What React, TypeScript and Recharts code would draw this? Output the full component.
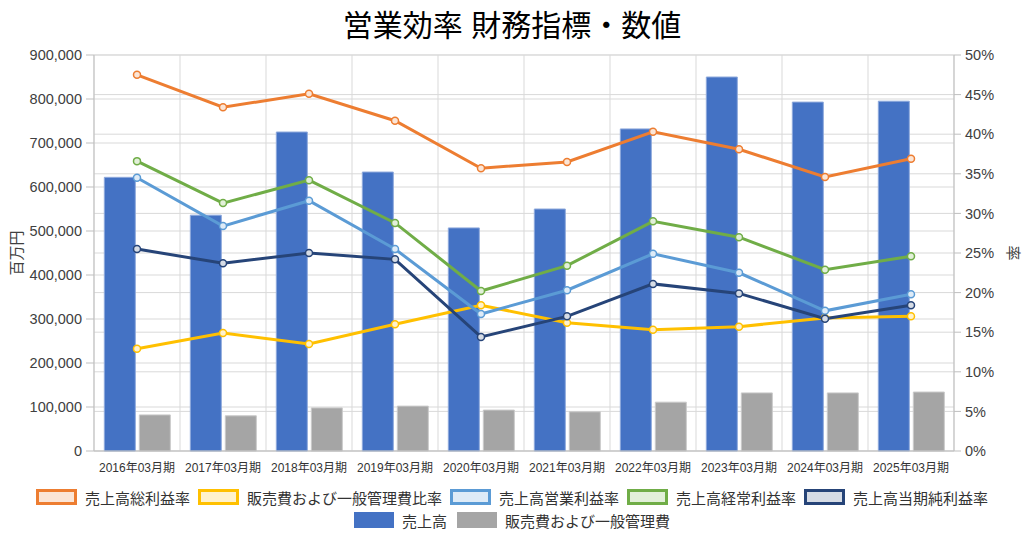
import React from 'react';
import { ComposedChart, Bar, Line, XAxis, YAxis, CartesianGrid, Legend } from 'recharts';

// 決算期
const periods = [
  '2016年03月期', '2017年03月期', '2018年03月期', '2019年03月期', '2020年03月期',
  '2021年03月期', '2022年03月期', '2023年03月期', '2024年03月期', '2025年03月期',
];

// 百万円
const sales = [622000, 536000, 725000, 634000, 507000, 550000, 732000, 850000, 793000, 795000];
const sgaExpenses = [82000, 80000, 98000, 102000, 93000, 89000, 111000, 132000, 132000, 134000];

// 率
const grossMargin = [0.475, 0.434, 0.451, 0.417, 0.357, 0.365, 0.403, 0.381, 0.346, 0.369];
const sgaRatio = [0.129, 0.149, 0.135, 0.16, 0.184, 0.162, 0.153, 0.157, 0.168, 0.17];
const operatingMargin = [0.345, 0.284, 0.316, 0.255, 0.173, 0.203, 0.249, 0.225, 0.177, 0.198];
const ordinaryMargin = [0.366, 0.313, 0.342, 0.288, 0.202, 0.234, 0.29, 0.27, 0.229, 0.246];
const netMargin = [0.255, 0.237, 0.25, 0.242, 0.144, 0.17, 0.211, 0.199, 0.167, 0.184];

const leftTicks = [0, 100000, 200000, 300000, 400000, 500000, 600000, 700000, 800000, 900000];
const rightTicks = [0, 0.05, 0.1, 0.15, 0.2, 0.25, 0.3, 0.35, 0.4, 0.45, 0.5];
const boundaryTicks = [...periods.map((_, i) => i), periods.length];

const data = periods.map((p, i) => ({
  period: p,
  pos: i + 0.5,
  sales: sales[i],
  sga: sgaExpenses[i],
  gross: grossMargin[i],
  sgaRatio: sgaRatio[i],
  operating: operatingMargin[i],
  ordinary: ordinaryMargin[i],
  net: netMargin[i],
}));

const lineSeries = [
  { key: 'gross', name: '売上高総利益率', color: '#ED7D31', light: '#FBE5D6' },
  { key: 'sgaRatio', name: '販売費および一般管理費比率', color: '#FFC000', light: '#FFF2CC' },
  { key: 'operating', name: '売上高営業利益率', color: '#5B9BD5', light: '#DEEBF7' },
  { key: 'ordinary', name: '売上高経常利益率', color: '#70AD47', light: '#E2F0D9' },
  { key: 'net', name: '売上高当期純利益率', color: '#264478', light: '#D6DCE5' },
];
const barSeries = [
  { key: 'sales', name: '売上高', color: '#4472C4', border: '#8FAADC' },
  { key: 'sga', name: '販売費および一般管理費', color: '#A5A5A5', border: '#C9C9C9' },
];

const FONT = '"Liberation Sans", Arial, "Noto Sans CJK JP", sans-serif';
const TEXT = '#404040';
const GRID = '#d9d9d9';
const AXIS = '#bfbfbf';

const renderLegend = () => (
  <div style={{ height: 58, paddingTop: 8, boxSizing: 'border-box', fontFamily: FONT, fontSize: 15, color: '#333' }}>
    <div style={{ display: 'flex', justifyContent: 'center', alignItems: 'center', height: 22, gap: 8 }}>
      {lineSeries.map((s) => (
        <div key={s.key} style={{ display: 'flex', alignItems: 'center' }}>
          <span style={{ width: 35, height: 10, border: `3px solid ${s.color}`, background: s.light, marginRight: 8 }} />
          <span>{s.name}</span>
        </div>
      ))}
    </div>
    <div style={{ display: 'flex', justifyContent: 'center', alignItems: 'center', height: 24, gap: 10 }}>
      {barSeries.map((s) => (
        <div key={s.key} style={{ display: 'flex', alignItems: 'center' }}>
          <span style={{ width: 40, height: 16, background: s.color, marginRight: 8 }} />
          <span>{s.name}</span>
        </div>
      ))}
    </div>
  </div>
);

export default function App() {
  return (
    <div style={{ position: 'absolute', left: 0, top: 0, width: 1024, height: 540, background: '#fff', fontFamily: FONT }}>
      <div style={{ position: 'absolute', top: 8, left: 0, width: 1024, textAlign: 'center', fontSize: 30, color: '#000', lineHeight: '36px' }}>
        営業効率 財務指標・数値
      </div>
      <ComposedChart
        width={1024}
        height={540}
        data={data}
        margin={{ top: 55, right: 0, bottom: 4, left: 0 }}
        barCategoryGap="12%"
        barGap={4}
      >
        <CartesianGrid yAxisId="left" xAxisId="grid" stroke={GRID} />
        <CartesianGrid yAxisId="right" stroke={GRID} vertical={false} />
        <XAxis
          xAxisId="grid"
          dataKey="pos"
          type="number"
          domain={[0, periods.length]}
          ticks={boundaryTicks}
          allowDataOverflow
          height={0}
          axisLine={false}
          tickLine={{ stroke: AXIS }}
          tickSize={7}
          tickFormatter={() => ''}
        />
        <XAxis
          dataKey="period"
          interval={0}
          height={27}
          axisLine={{ stroke: AXIS }}
          tickLine={false}
          tickSize={6}
          tickMargin={6}
          tick={{ fontSize: 12, fill: '#333', fontFamily: FONT }}
        />
        <YAxis
          yAxisId="left"
          width={94}
          domain={[0, 900000]}
          ticks={leftTicks}
          axisLine={{ stroke: AXIS }}
          tickLine={{ stroke: AXIS }}
          tickSize={8}
          tickMargin={4}
          tick={{ fontSize: 14.5, fill: TEXT, fontFamily: FONT }}
          tickFormatter={(v: number) => v.toLocaleString('en-US')}
          label={{ value: '百万円', angle: -90, position: 'insideLeft', offset: 17, style: { textAnchor: 'middle', fontSize: 15, fill: TEXT, fontFamily: FONT } }}
        />
        <YAxis
          yAxisId="right"
          orientation="right"
          width={70}
          domain={[0, 0.5]}
          ticks={rightTicks}
          axisLine={{ stroke: AXIS }}
          tickLine={{ stroke: AXIS }}
          tickSize={7}
          tickMargin={4}
          tick={{ fontSize: 14.5, fill: TEXT, fontFamily: FONT }}
          tickFormatter={(v: number) => `${Math.round(v * 100)}%`}
          label={{ value: '率', angle: 90, position: 'insideRight', offset: 11, style: { textAnchor: 'middle', fontSize: 15, fill: TEXT, fontFamily: FONT } }}
        />
        {barSeries.map((s) => (
          <Bar
            key={s.key}
            yAxisId="left"
            dataKey={s.key}
            name={s.name}
            fill={s.color}
            stroke={s.border}
            strokeWidth={1}
            isAnimationActive={false}
          />
        ))}
        {lineSeries.map((s) => (
          <Line
            key={s.key}
            yAxisId="right"
            type="linear"
            dataKey={s.key}
            name={s.name}
            stroke={s.color}
            strokeWidth={3}
            dot={{ r: 3.5, fill: s.light, stroke: s.color, strokeWidth: 1.5 }}
            activeDot={false}
            isAnimationActive={false}
          />
        ))}
        <Legend verticalAlign="bottom" height={58} content={renderLegend} />
      </ComposedChart>
    </div>
  );
}
